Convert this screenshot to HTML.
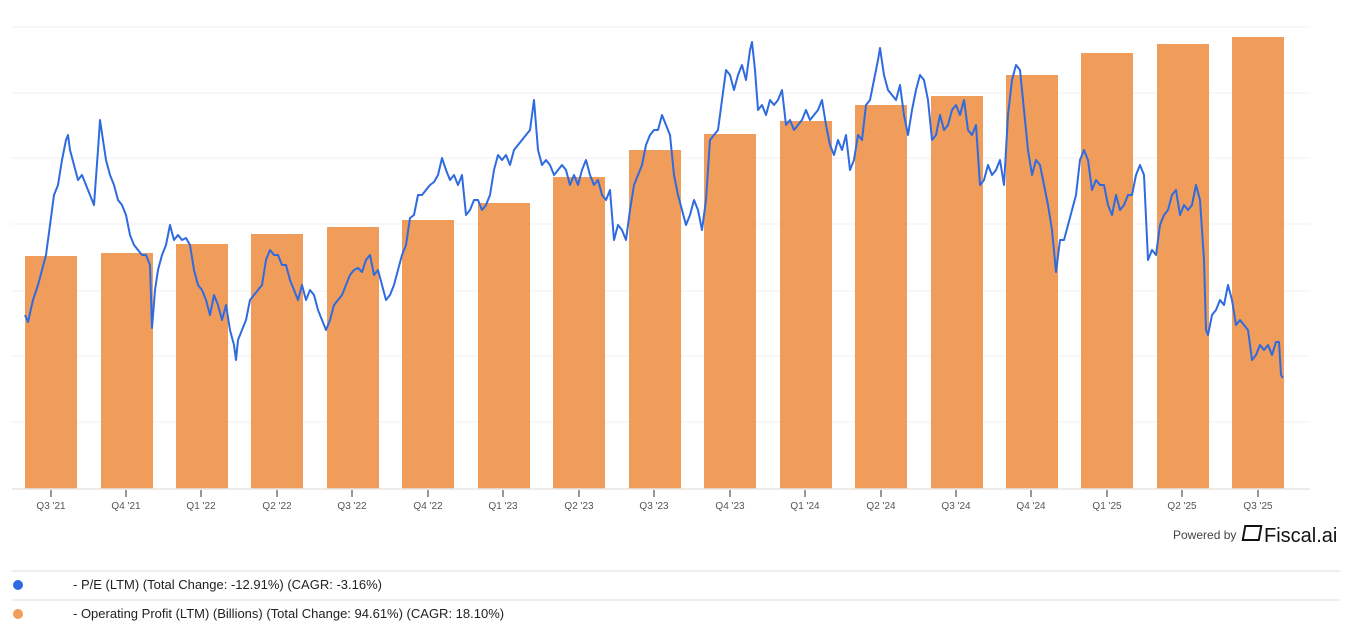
<!DOCTYPE html>
<html><head><meta charset="utf-8"><style>
body{margin:0;width:1353px;height:629px;background:#fff;font-family:"Liberation Sans",sans-serif;overflow:hidden;position:relative}
.leg{position:absolute;left:0;width:1340px;font-size:13px;color:#222}
.dot{position:absolute;left:13px;width:10px;height:10px;border-radius:50%}
</style></head><body>
<svg width="1353" height="629" style="position:absolute;left:0;top:0">
<g stroke="#f2f2f2" stroke-width="1">
<line x1="12" x2="1310" y1="27" y2="27"/><line x1="12" x2="1310" y1="93" y2="93"/><line x1="12" x2="1310" y1="158" y2="158"/><line x1="12" x2="1310" y1="224" y2="224"/><line x1="12" x2="1310" y1="291" y2="291"/><line x1="12" x2="1310" y1="356" y2="356"/><line x1="12" x2="1310" y1="422" y2="422"/>
</g>
<g fill="#f09c5b">
<rect x="25" y="256" width="52" height="233"/><rect x="101" y="253" width="52" height="236"/><rect x="176" y="244" width="52" height="245"/><rect x="251" y="234" width="52" height="255"/><rect x="327" y="227" width="52" height="262"/><rect x="402" y="220" width="52" height="269"/><rect x="478" y="203" width="52" height="286"/><rect x="553" y="177" width="52" height="312"/><rect x="629" y="150" width="52" height="339"/><rect x="704" y="134" width="52" height="355"/><rect x="780" y="121" width="52" height="368"/><rect x="855" y="105" width="52" height="384"/><rect x="931" y="96" width="52" height="393"/><rect x="1006" y="75" width="52" height="414"/><rect x="1081" y="53" width="52" height="436"/><rect x="1157" y="44" width="52" height="445"/><rect x="1232" y="37" width="52" height="452"/>
</g>
<line x1="12" x2="1310" y1="489" y2="489" stroke="#e6e6e6" stroke-width="1.5"/>
<polyline fill="none" stroke="#2f6be0" stroke-width="2" stroke-linejoin="round" points="25,315 28,322 33,300 38,285 42,270 46,255 50,225 54,195 58,185 62,160 66,140 68,135 70,150 74,165 78,180 82,175 86,185 90,195 94,205 98,150 100,120 103,140 106,160 110,175 114,185 118,200 122,205 126,215 130,235 134,245 138,250 142,255 146,255 150,265 152,328 155,290 158,270 162,255 166,245 170,225 174,240 178,235 182,240 186,238 190,245 194,270 198,285 202,290 206,300 210,315 214,295 218,305 222,320 226,305 230,330 234,345 236,360 238,340 242,330 246,320 250,300 254,295 258,290 262,285 266,260 270,250 274,255 278,255 282,265 286,265 290,280 294,290 298,300 302,285 306,300 310,290 314,295 318,310 322,320 326,330 330,320 334,305 338,300 342,295 346,285 350,275 354,270 358,268 362,272 366,260 370,255 374,275 378,270 382,285 386,300 390,295 394,285 398,270 402,255 406,245 410,218 414,215 418,195 422,195 426,190 430,185 434,182 438,175 442,158 446,170 450,180 454,175 458,185 462,175 466,215 470,210 474,200 478,200 482,210 486,205 490,195 494,170 498,155 502,160 506,155 510,165 514,150 518,145 522,140 526,135 530,130 534,100 538,150 542,165 546,160 550,165 554,175 558,170 562,165 566,170 570,185 574,175 578,185 582,170 586,160 590,175 594,185 598,180 602,195 606,200 610,190 614,240 618,225 622,230 626,240 630,210 634,185 638,175 642,165 646,145 650,135 654,130 658,130 662,115 666,125 670,135 674,175 678,195 682,210 686,225 690,215 694,200 698,210 702,230 706,200 710,140 714,135 718,130 722,100 726,70 730,75 734,90 738,75 742,65 746,80 750,50 752,42 755,70 758,110 762,105 766,115 770,100 774,105 778,100 782,90 786,125 790,120 794,130 798,125 802,120 806,110 810,120 814,115 818,110 822,100 826,125 830,145 834,155 838,140 842,150 846,135 850,170 854,160 858,135 862,140 866,105 870,100 874,80 878,60 880,48 884,75 888,90 892,95 896,100 900,85 904,115 908,135 912,110 916,90 920,75 924,80 928,100 932,140 936,135 940,115 944,130 948,125 952,110 956,105 960,115 964,100 968,130 972,135 976,125 980,185 984,180 988,165 992,175 996,170 1000,160 1004,185 1008,115 1012,80 1016,65 1020,70 1024,110 1028,150 1032,175 1036,160 1040,165 1044,185 1048,205 1052,230 1056,272 1060,240 1064,240 1068,225 1072,210 1076,195 1080,160 1084,150 1088,160 1092,190 1096,180 1100,185 1104,185 1108,205 1112,215 1116,195 1120,210 1124,205 1128,195 1132,195 1136,175 1140,165 1144,175 1148,260 1152,250 1156,255 1160,225 1164,215 1168,210 1172,195 1176,190 1180,215 1184,205 1188,210 1192,205 1196,185 1200,200 1204,260 1206,330 1208,335 1212,315 1216,310 1220,300 1224,305 1228,285 1232,300 1236,325 1240,320 1244,325 1248,330 1252,360 1256,355 1260,345 1264,350 1268,345 1272,355 1276,342 1279,342 1281,375 1283,378"/>
<g stroke="#333" stroke-width="1">
<line x1="51" x2="51" y1="490" y2="497"/><line x1="126" x2="126" y1="490" y2="497"/><line x1="201" x2="201" y1="490" y2="497"/><line x1="277" x2="277" y1="490" y2="497"/><line x1="352" x2="352" y1="490" y2="497"/><line x1="428" x2="428" y1="490" y2="497"/><line x1="503" x2="503" y1="490" y2="497"/><line x1="579" x2="579" y1="490" y2="497"/><line x1="654" x2="654" y1="490" y2="497"/><line x1="730" x2="730" y1="490" y2="497"/><line x1="805" x2="805" y1="490" y2="497"/><line x1="881" x2="881" y1="490" y2="497"/><line x1="956" x2="956" y1="490" y2="497"/><line x1="1031" x2="1031" y1="490" y2="497"/><line x1="1107" x2="1107" y1="490" y2="497"/><line x1="1182" x2="1182" y1="490" y2="497"/><line x1="1258" x2="1258" y1="490" y2="497"/>
</g>
<g font-family="Liberation Sans,sans-serif" font-size="10" fill="#555" text-anchor="middle">
<text x="51" y="509">Q3 '21</text><text x="126" y="509">Q4 '21</text><text x="201" y="509">Q1 '22</text><text x="277" y="509">Q2 '22</text><text x="352" y="509">Q3 '22</text><text x="428" y="509">Q4 '22</text><text x="503" y="509">Q1 '23</text><text x="579" y="509">Q2 '23</text><text x="654" y="509">Q3 '23</text><text x="730" y="509">Q4 '23</text><text x="805" y="509">Q1 '24</text><text x="881" y="509">Q2 '24</text><text x="956" y="509">Q3 '24</text><text x="1031" y="509">Q4 '24</text><text x="1107" y="509">Q1 '25</text><text x="1182" y="509">Q2 '25</text><text x="1258" y="509">Q3 '25</text>
</g>
<text x="1173" y="539" font-size="12" fill="#444" font-family="Liberation Sans,sans-serif">Powered by</text>
<rect x="1243" y="526" width="16" height="14" fill="none" stroke="#111" stroke-width="2" transform="skewX(-10) translate(95,0)"/>
<text x="1264" y="542" font-size="20" fill="#111" font-family="Liberation Sans,sans-serif">Fiscal.ai</text>
<line x1="12" x2="1340" y1="571" y2="571" stroke="#e8e8e8" stroke-width="1.5"/>
<line x1="12" x2="1340" y1="600" y2="600" stroke="#e8e8e8" stroke-width="1.5"/>
</svg>
<div class="dot" style="top:580px;background:#2f6be0"></div>
<div class="leg" style="top:577px;left:73px">- P/E (LTM) (Total Change: -12.91%) (CAGR: -3.16%)</div>
<div class="dot" style="top:609px;background:#f09c5b"></div>
<div class="leg" style="top:606px;left:73px">- Operating Profit (LTM) (Billions) (Total Change: 94.61%) (CAGR: 18.10%)</div>
</body></html>
